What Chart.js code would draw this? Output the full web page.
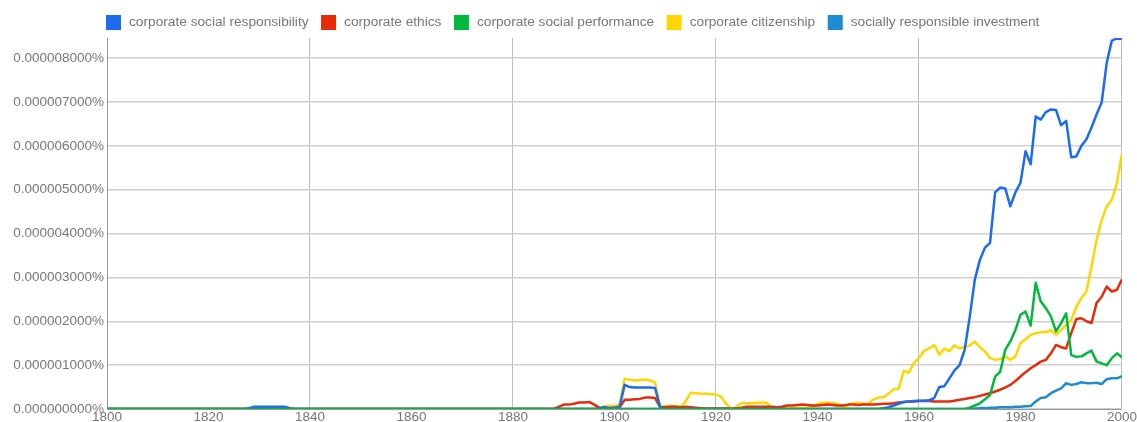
<!DOCTYPE html>
<html>
<head>
<meta charset="utf-8">
<script src="https://cdn.jsdelivr.net/npm/chart.js@4.4.1/dist/chart.umd.min.js"></script>
<style>
  html, body { margin: 0; padding: 0; background: #fff; }
  #wrap { width: 1137px; height: 422px; }
</style>
</head>
<body>
<div id="wrap"><canvas id="ngramChart" width="1137" height="422"></canvas></div>
<script>
// values are in millionths of a percent (1 = 0.000001000%)
const labels = ['corporate social responsibility', 'corporate ethics', 'corporate social performance', 'corporate citizenship', 'socially responsible investment'];
const colors = ['#1c6cf0', '#e62a0a', '#00b93c', '#ffd700', '#1e8cd2'];
const yTicks = [0, 1, 2, 3, 4, 5, 6, 7, 8];

const csr = [
  0,0,0,0,0,0,0,0,0,0,
  0,0,0,0,0,0,0,0,0,0,
  0,0,0,0,0,0,0,0,0.02,0.05,
  0.05,0.05,0.05,0.05,0.05,0.05,0.02,0,0,0,
  0,0,0,0,0,0,0,0,0,0,
  0,0,0,0,0,0,0,0,0,0,
  0,0,0,0,0,0,0,0,0,0,
  0,0,0,0,0,0,0,0,0,0,
  0,0,0,0,0,0,0,0,0,0,
  0,0,0,0,0,0,0,0.02,0.04,0.02,
  0.02,0.05,0.55,0.5,0.49,0.49,0.49,0.49,0.48,0.03,
  0,0,0,0,0,0,0,0,0,0,
  0,0,0,0,0,0,0,0,0,0,
  0,0,0,0,0,0,0,0,0,0,
  0,0,0,0,0,0,0,0,0,0,
  0,0,0,0.02,0.04,0.08,0.12,0.16,0.17,0.18,
  0.19,0.19,0.2,0.25,0.5,0.52,0.7,0.88,1.0,1.35,
  2.1,2.95,3.4,3.68,3.79,4.94,5.05,5.03,4.62,4.94,
  5.16,5.88,5.58,6.67,6.6,6.77,6.83,6.82,6.47,6.57,
  5.74,5.76,6.0,6.15,6.42,6.72,6.99,7.9,8.4,8.45,
  8.44
];

const ethics = [
  0,0,0,0,0,0,0,0,0,0,
  0,0,0,0,0,0,0,0,0,0,
  0,0,0,0,0,0,0,0,0,0,
  0,0,0,0,0,0,0,0,0,0,
  0,0,0,0,0,0,0,0,0,0,
  0,0,0,0,0,0,0,0,0,0,
  0,0,0,0,0,0,0,0,0,0,
  0,0,0,0,0,0,0,0,0,0,
  0,0,0,0,0,0,0,0,0,0.05,
  0.1,0.1,0.12,0.15,0.15,0.16,0.1,0.03,0.02,0.02,
  0.03,0.04,0.21,0.21,0.22,0.23,0.26,0.26,0.25,0.04,
  0.04,0.05,0.05,0.04,0.05,0.04,0.03,0.02,0.01,0.01,
  0.01,0.01,0.01,0.01,0.01,0.03,0.05,0.05,0.05,0.05,
  0.05,0.05,0.04,0.05,0.08,0.08,0.09,0.1,0.09,0.08,
  0.08,0.09,0.1,0.09,0.08,0.08,0.1,0.1,0.09,0.1,
  0.1,0.1,0.11,0.12,0.12,0.13,0.15,0.16,0.17,0.17,
  0.18,0.18,0.18,0.17,0.17,0.17,0.17,0.19,0.21,0.23,
  0.25,0.27,0.3,0.33,0.36,0.4,0.44,0.49,0.55,0.64,
  0.74,0.84,0.93,1.0,1.08,1.12,1.27,1.46,1.41,1.38,
  1.73,2.05,2.07,2.0,1.96,2.42,2.56,2.79,2.68,2.72,
  2.96
];

const csp = [
  0,0,0,0,0,0,0,0,0,0,
  0,0,0,0,0,0,0,0,0,0,
  0,0,0,0,0,0,0,0,0,0,
  0,0,0,0,0,0,0,0,0,0,
  0,0,0,0,0,0,0,0,0,0,
  0,0,0,0,0,0,0,0,0,0,
  0,0,0,0,0,0,0,0,0,0,
  0,0,0,0,0,0,0,0,0,0,
  0,0,0,0,0,0,0,0,0,0,
  0,0,0,0,0,0,0,0,0,0,
  0,0,0,0,0,0,0,0,0,0,
  0,0,0,0,0,0,0,0,0,0,
  0,0,0,0,0,0,0,0,0,0,
  0,0,0,0,0,0,0,0,0,0,
  0,0,0,0,0,0,0,0,0,0,
  0,0,0,0,0,0,0,0,0,0,
  0,0,0,0,0,0,0,0,0,0,
  0.03,0.08,0.13,0.22,0.32,0.74,0.85,1.35,1.54,1.8,
  2.15,2.22,1.9,2.88,2.45,2.3,2.11,1.77,1.96,2.18,
  1.23,1.19,1.2,1.27,1.33,1.08,1.04,1.0,1.16,1.27,
  1.18
];

const citizenship = [
  0,0,0,0,0,0,0,0,0,0,
  0,0,0,0,0,0,0,0,0,0,
  0,0,0,0,0,0,0,0,0,0,
  0,0,0,0,0,0,0,0,0,0,
  0,0,0,0,0,0,0,0,0,0,
  0,0,0,0,0,0,0,0,0,0,
  0,0,0,0,0,0,0,0,0,0,
  0,0,0,0,0,0,0,0,0,0,
  0,0,0,0,0,0,0,0,0,0,
  0,0,0,0,0,0,0,0.03,0.06,0.07,
  0.07,0.1,0.69,0.67,0.65,0.66,0.67,0.65,0.6,0.05,
  0.06,0.07,0.07,0.05,0.17,0.37,0.36,0.35,0.35,0.34,
  0.33,0.28,0.12,0,0.05,0.13,0.13,0.13,0.14,0.14,
  0.14,0.02,0.02,0.02,0.02,0.02,0.02,0.02,0.03,0.05,
  0.12,0.14,0.14,0.13,0.12,0.05,0.08,0.13,0.14,0.12,
  0.12,0.22,0.26,0.27,0.35,0.45,0.46,0.87,0.83,1.05,
  1.16,1.33,1.38,1.46,1.24,1.38,1.32,1.45,1.38,1.42,
  1.45,1.54,1.41,1.31,1.16,1.12,1.14,1.2,1.12,1.2,
  1.5,1.59,1.69,1.73,1.75,1.75,1.8,1.69,1.8,1.92,
  2.03,2.33,2.53,2.68,3.25,3.86,4.31,4.62,4.77,5.15,
  5.83
];

const sri = [
  0,0,0,0,0,0,0,0,0,0,
  0,0,0,0,0,0,0,0,0,0,
  0,0,0,0,0,0,0,0,0,0,
  0,0,0,0,0,0,0,0,0,0,
  0,0,0,0,0,0,0,0,0,0,
  0,0,0,0,0,0,0,0,0,0,
  0,0,0,0,0,0,0,0,0,0,
  0,0,0,0,0,0,0,0,0,0,
  0,0,0,0,0,0,0,0,0,0,
  0,0,0,0,0,0,0,0,0,0,
  0,0,0,0,0,0,0,0,0,0,
  0,0,0,0,0,0,0,0,0,0,
  0,0,0,0,0,0,0,0,0,0,
  0,0,0,0,0,0,0,0,0,0,
  0,0,0,0,0,0,0,0,0,0,
  0,0,0,0,0,0,0,0,0,0,
  0,0,0,0,0,0,0,0,0,0,
  0,0.01,0.02,0.02,0.03,0.03,0.04,0.04,0.04,0.05,
  0.05,0.06,0.07,0.17,0.25,0.27,0.36,0.42,0.47,0.59,
  0.55,0.57,0.61,0.59,0.59,0.6,0.57,0.68,0.7,0.7,
  0.75
];

const firstYear = 1800;
const series = [csr, ethics, csp, citizenship, sri];
const drawOrder = [1, 2, 0, 3, 4];

const datasets = series.map((vals, i) => ({
  label: labels[i],
  data: vals.map((v, k) => ({ x: firstYear + k, y: v })),
  borderColor: colors[i],
  backgroundColor: colors[i],
  borderWidth: 2.5,
  pointRadius: 0,
  tension: 0,
  fill: false,
  borderJoinStyle: 'round',
  order: drawOrder[i]
}));

// legend drawn along the top, like the ngram viewer
const topLegend = {
  id: 'topLegend',
  afterDraw(chart) {
    const ctx = chart.ctx;
    ctx.save();
    ctx.font = '13.7px "Liberation Sans", Arial, sans-serif';
    ctx.textBaseline = 'middle';
    let x = 106;
    labels.forEach((name, i) => {
      ctx.fillStyle = colors[i];
      ctx.fillRect(x, 15, 15, 15);
      ctx.fillStyle = '#777';
      ctx.fillText(name, x + 23, 22.5);
      x += 23 + ctx.measureText(name).width + 12.5;
    });
    ctx.restore();
  }
};

new Chart(document.getElementById('ngramChart'), {
  type: 'line',
  data: { datasets },
  plugins: [topLegend],
  options: {
    responsive: false,
    animation: false,
    layout: { padding: { top: 38, right: 15, left: 0, bottom: 0 } },
    plugins: { legend: { display: false }, tooltip: { enabled: false } },
    scales: {
      x: {
        type: 'linear',
        min: 1800,
        max: 2000,
        afterFit: s => { s.height = 13; },
        ticks: {
          stepSize: 20,
          autoSkip: false,
          maxRotation: 0,
          padding: 0,
          color: '#777',
          font: { family: '"Liberation Sans", Arial, sans-serif', size: 13.5 },
          callback: v => String(v)
        },
        grid: {
          drawTicks: false,
          color: c => (c.tick && c.tick.value % 40 === 0) ? '#bdbdbd' : 'rgba(0,0,0,0)'
        },
        border: { color: '#999' }
      },
      y: {
        min: 0,
        max: 8.46,
        afterFit: s => { s.width = 107; },
        afterBuildTicks: s => { s.ticks = yTicks.map(v => ({ value: v })); },
        ticks: {
          padding: 3,
          color: '#777',
          font: { family: '"Liberation Sans", Arial, sans-serif', size: 13.5 },
          callback: v => (v / 1e6).toFixed(9) + '%'
        },
        grid: { drawTicks: false, color: '#cfcfcf', lineWidth: 1.5 },
        border: { color: '#999' }
      }
    }
  }
});
</script>
</body>
</html>
